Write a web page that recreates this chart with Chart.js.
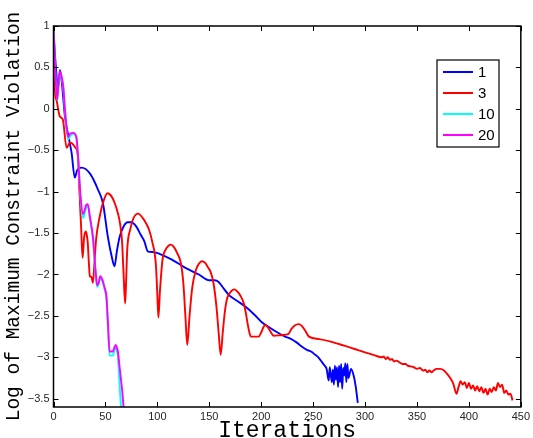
<!DOCTYPE html>
<html>
<head>
<meta charset="utf-8">
<script src="https://cdn.jsdelivr.net/npm/chart.js@4"></script>
<style>
  html, body { margin: 0; padding: 0; background: #fff; }
</style>
</head>
<body>
<canvas id="violationChart" width="533" height="438"></canvas>
<script>
// tick values
const xTicks = [0, 50, 100, 150, 200, 250, 300, 350, 400, 450];
const yTicks = [1, 0.5, 0, -0.5, -1, -1.5, -2, -2.5, -3, -3.5];

// series labels (legend)
const seriesLabels = ['1', '3', '10', '20'];

// [iteration, log violation]
const series1 = [[0,0.95],[2,0.55],[4.5,0.25],[6.2,0.47],[8,0.32],[11,-0.09],[14,-0.31],[17.4,-0.53],[20.5,-0.83],[22.8,-0.74],[27,-0.71],[35,-0.78],[43,-0.98],[47.6,-1.14],[52.4,-1.55],[56,-1.78],[58.8,-1.9],[61,-1.72],[63.6,-1.55],[67.5,-1.42],[71.5,-1.37],[75,-1.37],[79.6,-1.42],[84,-1.52],[87.5,-1.6],[90.7,-1.72],[96,-1.73],[102,-1.75],[114,-1.82],[127,-1.92],[140,-2.0],[150,-2.07],[155,-2.07],[159,-2.09],[164,-2.17],[169,-2.25],[177,-2.32],[185,-2.39],[193,-2.48],[200,-2.57],[208,-2.64],[217,-2.71],[223,-2.75],[229,-2.78],[234,-2.82],[239,-2.87],[244,-2.91],[248,-2.93],[252,-2.97],[255,-3.0],[258,-3.05],[261,-3.1],[263,-3.14],[265,-3.28],[266,-3.12],[268,-3.3],[269,-3.15],[270,-3.33],[271,-3.1],[272,-3.27],[273,-3.12],[274,-3.36],[275,-3.1],[276,-3.3],[277,-3.08],[278,-3.38],[279,-3.13],[280,-3.22],[281,-3.07],[282,-3.3],[283,-3.08],[284,-3.25],[286.5,-3.14],[289,-3.22],[291,-3.35],[293,-3.55]];

const series3 = [[0,0.85],[1.5,0.2],[3,0.1],[6,-0.09],[9,-0.13],[12.6,-0.47],[15.8,-0.41],[18,-0.42],[20.6,-0.46],[23.6,-0.58],[25,-1.0],[26.5,-1.4],[28,-1.8],[29.5,-1.55],[31,-1.48],[32,-1.52],[33,-1.62],[34,-1.85],[35,-2.02],[36.5,-2.03],[38,-2.1],[39.5,-1.85],[41,-1.58],[44.5,-1.3],[48,-1.12],[52,-1.02],[56,-1.06],[59,-1.14],[62,-1.26],[64,-1.38],[66,-1.6],[67.5,-2.0],[69,-2.35],[70,-2.05],[71,-1.7],[74,-1.45],[77,-1.32],[81.5,-1.265],[86,-1.32],[89,-1.38],[92,-1.46],[95,-1.6],[98.7,-1.9],[100,-2.25],[101,-2.52],[102.5,-2.2],[105,-1.82],[108,-1.7],[111,-1.65],[113,-1.64],[116,-1.67],[119,-1.74],[122.6,-1.86],[125,-2.1],[127,-2.5],[128.8,-2.85],[131,-2.5],[133.6,-2.16],[137,-1.95],[140,-1.87],[143,-1.84],[146,-1.86],[149,-1.92],[151,-1.96],[154,-2.1],[157,-2.4],[159,-2.7],[161,-2.97],[163,-2.7],[165,-2.45],[167,-2.3],[170,-2.22],[174,-2.18],[178,-2.22],[181,-2.28],[183,-2.34],[185,-2.45],[187,-2.6],[189,-2.72],[190,-2.75],[197.5,-2.75],[200,-2.7],[202,-2.64],[204,-2.61],[206,-2.63],[209,-2.69],[212,-2.74],[220,-2.73],[226,-2.72],[229,-2.66],[232,-2.62],[236,-2.6],[239,-2.62],[242,-2.67],[246,-2.75],[256,-2.78],[267,-2.81],[280,-2.86],[290,-2.9],[300,-2.94],[310,-2.98],[316,-3.0],[318,-2.99],[320,-3.02],[322,-3.0],[324,-3.03],[326,-3.02],[328,-3.05],[330,-3.04],[333,-3.06],[336,-3.08],[339,-3.08],[341,-3.1],[344,-3.11],[347,-3.12],[350,-3.14],[353,-3.13],[356,-3.16],[358,-3.15],[360,-3.18],[362,-3.16],[364,-3.18],[366,-3.16],[369,-3.14],[372.5,-3.14],[376,-3.16],[379,-3.2],[382,-3.25],[385,-3.32],[388,-3.44],[390,-3.36],[392,-3.29],[394,-3.33],[396,-3.3],[398,-3.37],[400,-3.31],[402,-3.38],[404,-3.34],[406,-3.4],[408,-3.35],[410,-3.41],[412,-3.36],[414,-3.43],[416,-3.38],[418,-3.45],[420,-3.38],[422,-3.42],[424,-3.36],[426,-3.4],[428,-3.31],[430,-3.36],[432,-3.33],[434,-3.43],[436,-3.4],[438,-3.45],[440,-3.44],[442,-3.52]];

const series10 = [[0,0.95],[1.5,0.5],[3.6,0.1],[5,0.33],[6.2,0.43],[8,0.36],[9.4,0.25],[11,-0.02],[14,-0.37],[16,-0.33],[19,-0.3],[22,-0.35],[23.5,-0.56],[24.7,-0.8],[26,-1.08],[28.5,-1.32],[30,-1.26],[31.5,-1.19],[33,-1.17],[35,-1.32],[38,-1.58],[40.5,-1.98],[42,-2.15],[43.5,-2.12],[45,-2.04],[47,-2.08],[49,-2.17],[51,-2.3],[52.5,-2.65],[54,-2.98],[57,-2.98],[59,-2.9],[60,-2.88],[61,-2.92],[62,-2.98],[63,-3.2],[64.2,-3.45],[65.5,-3.7]];

const series20 = [[0,0.95],[1.5,0.5],[3.6,0.11],[5,0.35],[6.2,0.45],[8,0.38],[9.4,0.27],[11,0.0],[14,-0.34],[16,-0.3],[19,-0.29],[22,-0.34],[23.5,-0.55],[24.7,-0.8],[26,-1.05],[28.5,-1.27],[30,-1.22],[31.5,-1.16],[33,-1.15],[35,-1.3],[38,-1.55],[40.5,-1.95],[42,-2.13],[43.5,-2.1],[45,-2.02],[47,-2.06],[49,-2.15],[51,-2.27],[52.5,-2.6],[54,-2.93],[57,-2.93],[59,-2.87],[60,-2.85],[61,-2.88],[62,-2.93],[63.5,-3.1],[65,-3.27],[66.5,-3.45],[68,-3.7]];

const seriesData = [series1, series3, series10, series20];
const seriesColors = ['#0000ff', '#ff0000', '#00ffff', '#ff00ff'];

const toPoints = arr => arr.map(p => ({ x: p[0], y: p[1] }));
const minusSign = v => String(v).replace('-', '\u2212');

// MATLAB style box: border, inward ticks on all four sides, boxed legend
const matlabBox = {
    id: 'matlabBox',
    afterDatasetsDraw(chart) {
        const { ctx, chartArea: a, scales: { x, y } } = chart;
        ctx.save();
        ctx.strokeStyle = '#000';
        ctx.lineWidth = 1;
        ctx.beginPath();
        x.ticks.forEach(t => {
            const px = Math.round(x.getPixelForValue(t.value)) + 0.5;
            ctx.moveTo(px, a.bottom); ctx.lineTo(px, a.bottom - 5);
            ctx.moveTo(px, a.top); ctx.lineTo(px, a.top + 5);
        });
        y.ticks.forEach(t => {
            const py = Math.round(y.getPixelForValue(t.value)) + 0.5;
            ctx.moveTo(a.left, py); ctx.lineTo(a.left + 5, py);
            ctx.moveTo(a.right, py); ctx.lineTo(a.right - 5, py);
        });
        ctx.stroke();
        ctx.lineWidth = 1.5;
        ctx.strokeRect(a.left, a.top, a.right - a.left, a.bottom - a.top);

        // legend
        const lx = 437, ly = 60, lw = 62, lh = 87;
        ctx.fillStyle = '#fff';
        ctx.fillRect(lx, ly, lw, lh);
        ctx.lineWidth = 1.2;
        ctx.strokeRect(lx, ly, lw, lh);
        ctx.font = '15px "Liberation Sans", Arial, sans-serif';
        ctx.textBaseline = 'middle';
        ctx.textAlign = 'left';
        chart.data.datasets.forEach((ds, i) => {
            const ry = ly + 12 + i * 21;
            ctx.strokeStyle = ds.borderColor;
            ctx.lineWidth = 2;
            ctx.beginPath();
            ctx.moveTo(lx + 6, ry); ctx.lineTo(lx + 36, ry);
            ctx.stroke();
            ctx.fillStyle = '#000';
            ctx.fillText(ds.label, lx + 41, ry + 1);
        });
        ctx.restore();
    }
};

const ctx = document.getElementById('violationChart');
new Chart(ctx, {
    type: 'line',
    data: {
        datasets: seriesData.map((s, i) => ({
            label: seriesLabels[i],
            data: toPoints(s),
            borderColor: seriesColors[i],
            borderWidth: 1.9,
            pointRadius: 0,
            cubicInterpolationMode: 'monotone',
            fill: false,
            order: 4 - i
        }))
    },
    options: {
        responsive: false,
        animation: false,
        layout: { padding: { left: 0, right: 9, top: 26, bottom: 0 } },
        plugins: { legend: { display: false }, tooltip: { enabled: false } },
        scales: {
            x: {
                type: 'linear',
                min: 0, max: 450,
                afterBuildTicks: s => { s.ticks = xTicks.map(v => ({ value: v })); },
                afterFit: s => { s.height = 31; },
                grid: { display: false, drawTicks: false },
                border: { display: false },
                ticks: {
                    padding: 3,
                    maxRotation: 0,
                    color: '#262626',
                    font: { family: '"Liberation Sans", Arial, sans-serif', size: 11 },
                    callback: v => minusSign(v)
                },
                title: {
                    display: true,
                    text: 'Iterations',
                    color: '#000',
                    padding: 0,
                    font: { family: '"Liberation Mono", "Courier New", monospace', size: 23, lineHeight: '14px' }
                }
            },
            y: {
                type: 'linear',
                min: -3.6, max: 1,
                afterBuildTicks: s => { s.ticks = yTicks.map(v => ({ value: v })); },
                afterFit: s => { s.width = 53.5; },
                grid: { display: false, drawTicks: false },
                border: { display: false },
                ticks: {
                    padding: 4,
                    color: '#262626',
                    font: { family: '"Liberation Sans", Arial, sans-serif', size: 11 },
                    callback: v => minusSign(v)
                },
                title: {
                    display: true,
                    text: 'Log of Maximum Constraint Violation',
                    color: '#000',
                    padding: { top: 4, bottom: 0 },
                    font: { family: '"Liberation Mono", "Courier New", monospace', size: 19.5, lineHeight: '20px' }
                }
            }
        }
    },
    plugins: [matlabBox]
});
</script>
</body>
</html>
